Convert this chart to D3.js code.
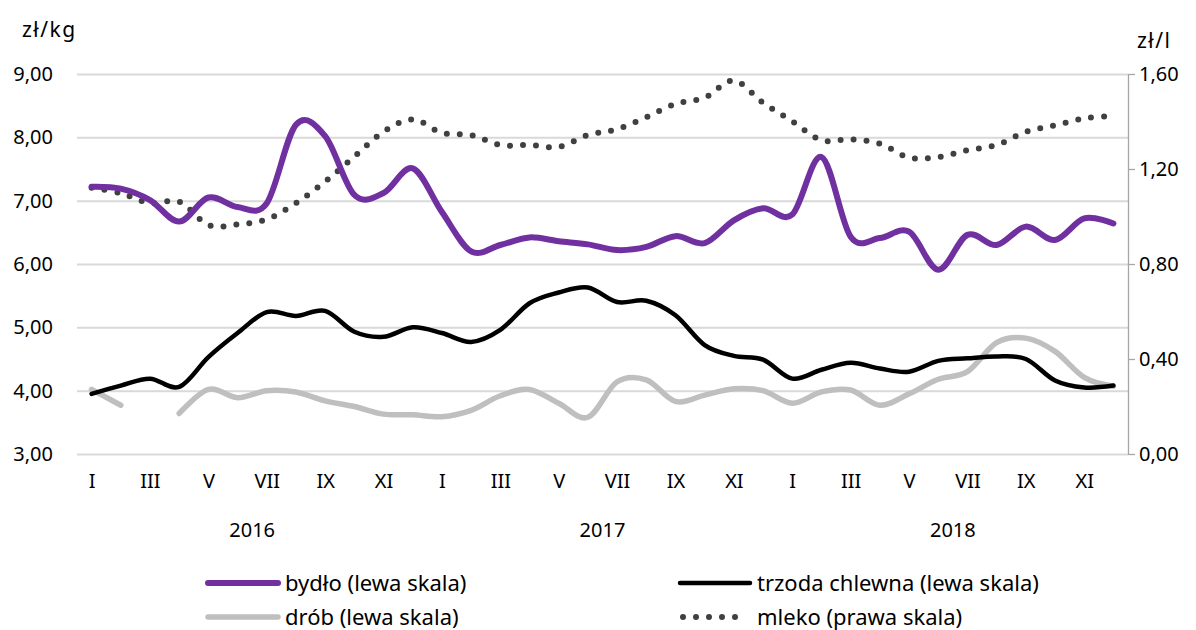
<!DOCTYPE html>
<html lang="pl">
<head>
    <meta charset="UTF-8">
    <title>Ceny skupu</title>
    <script type="text/javascript" src="https://cdn.jsdelivr.net/npm/d3@7/dist/d3.min.js"></script>
    <style type="text/css">
        body { margin: 0; background: #fff; }
        text { font-family: "Noto Sans", "Open Sans", sans-serif; fill: #000; }
    </style>
</head>
<body>
    <script type="text/javascript">
        //Width and height
        var w = 1196;
        var h = 630;

        //Data
        var monthLabels = ["I", "II", "III", "IV", "V", "VI", "VII", "VIII", "IX", "X", "XI", "XII"];
        var years = ["2016", "2017", "2018"];

        var bydlo = [7.22, 7.19, 7.01, 6.67, 7.05, 6.90, 6.96, 8.20, 8.02, 7.09, 7.12, 7.51,
            6.82, 6.20, 6.30, 6.42, 6.36, 6.31, 6.22, 6.27, 6.44, 6.33, 6.69, 6.88,
            6.78, 7.69, 6.43, 6.41, 6.51, 5.91, 6.46, 6.30, 6.59, 6.38, 6.72, 6.64];

        var trzoda = [3.95, 4.08, 4.19, 4.06, 4.53, 4.91, 5.24, 5.18, 5.26, 4.93, 4.85, 5.00,
            4.91, 4.77, 4.96, 5.38, 5.55, 5.63, 5.40, 5.42, 5.19, 4.72, 4.55, 4.49,
            4.19, 4.33, 4.44, 4.35, 4.30, 4.47, 4.51, 4.54, 4.50, 4.16, 4.05, 4.08];

        var drob = [4.02, 3.77, null, 3.64, 4.02, 3.89, 4.00, 3.98, 3.84, 3.75, 3.63, 3.62,
            3.59, 3.69, 3.92, 4.02, 3.80, 3.58, 4.14, 4.17, 3.83, 3.93, 4.03, 4.00,
            3.80, 3.98, 4.01, 3.77, 3.95, 4.18, 4.30, 4.76, 4.83, 4.62, 4.21, 4.07];

        var mleko = [1.121, 1.098, 1.056, 1.062, 0.964, 0.967, 0.988, 1.056, 1.147, 1.252, 1.357, 1.409,
            1.352, 1.343, 1.301, 1.301, 1.293, 1.343, 1.368, 1.418, 1.474, 1.500, 1.572, 1.479,
            1.401, 1.321, 1.325, 1.307, 1.248, 1.250, 1.279, 1.301, 1.356, 1.384, 1.413, 1.423];

        var leftTicks = [3, 4, 5, 6, 7, 8, 9];
        var rightTicks = [0, 0.4, 0.8, 1.2, 1.6];

        //Plot area
        var plotL = 77, plotR = 1128, plotT = 74, plotB = 454;

        var pl = d3.formatLocale({ decimal: ",", thousands: " ", grouping: [3], currency: ["", " zł"] });
        var fmt = pl.format(".2f");

        var xScale = d3.scalePoint()
            .domain(d3.range(bydlo.length))
            .range([plotL, plotR])
            .padding(0.5);

        var yLeft = d3.scaleLinear().domain([3, 9]).range([plotB, plotT]);
        var yRight = d3.scaleLinear().domain([0, 1.6]).range([plotB, plotT]);

        //Create SVG element
        var svg = d3.select("body")
            .append("svg")
            .attr("width", w)
            .attr("height", h);

        //Gridlines
        svg.append("g")
            .attr("transform", "translate(" + plotL + ",0)")
            .call(d3.axisLeft(yLeft).tickValues(leftTicks).tickSize(-(plotR - plotL)).tickFormat(""))
            .call(function(g) {
                g.select(".domain").remove();
                g.selectAll("line").attr("stroke", "#d9d9d9").attr("stroke-width", 2);
            });

        //Left axis labels
        svg.append("g")
            .attr("transform", "translate(" + plotL + ",0)")
            .call(d3.axisLeft(yLeft).tickValues(leftTicks).tickSize(0).tickPadding(24).tickFormat(fmt))
            .call(function(g) {
                g.select(".domain").remove();
                g.selectAll("text").attr("font-size", 20).attr("font-family", null);
            });

        //Right axis
        svg.append("g")
            .attr("transform", "translate(" + plotR + ",0)")
            .call(d3.axisRight(yRight).tickValues(rightTicks).tickSize(7).tickSizeOuter(0).tickPadding(4).tickFormat(fmt))
            .call(function(g) {
                g.select(".domain").attr("stroke", "#a6a6a6").attr("stroke-width", 1.3);
                g.selectAll("line").attr("stroke", "#a6a6a6").attr("stroke-width", 1.3);
                g.selectAll("text").attr("font-size", 20).attr("font-family", null);
            });

        //Month labels
        svg.append("g")
            .attr("transform", "translate(0," + plotB + ")")
            .call(d3.axisBottom(xScale)
                .tickValues(xScale.domain().filter(function(d) { return d % 2 === 0; }))
                .tickSize(0).tickPadding(20)
                .tickFormat(function(d) { return monthLabels[d % 12]; }))
            .call(function(g) {
                g.select(".domain").remove();
                g.selectAll("text").attr("font-size", 20).attr("font-family", null);
            });

        //Year labels
        svg.selectAll(".year")
            .data(years)
            .enter()
            .append("text")
            .attr("class", "year")
            .attr("x", function(d, i) {
                return (xScale(i * 12) + xScale(i * 12 + 11)) / 2;
            })
            .attr("y", 537)
            .attr("text-anchor", "middle")
            .attr("font-size", 20)
            .text(function(d) { return d; });

        //Axis titles
        svg.append("text").attr("x", 22).attr("y", 37).attr("font-size", 21).attr("letter-spacing", 1.5).text("zł/kg");
        svg.append("text").attr("x", 1137).attr("y", 48).attr("font-size", 21).attr("letter-spacing", 1.5).text("zł/l");

        //Lines
        var lineLeft = d3.line()
            .defined(function(d) { return d != null; })
            .x(function(d, i) { return xScale(i); })
            .y(function(d) { return yLeft(d); })
            .curve(d3.curveCardinal);

        var lineRight = d3.line()
            .x(function(d, i) { return xScale(i); })
            .y(function(d) { return yRight(d); })
            .curve(d3.curveCardinal);

        var series = [
            { name: "drób (lewa skala)", values: drob, line: lineLeft, color: "#bfbfbf", width: 5.5, dash: null },
            { name: "trzoda chlewna (lewa skala)", values: trzoda, line: lineLeft, color: "#000000", width: 4.5, dash: null },
            { name: "mleko (prawa skala)", values: mleko, line: lineRight, color: "#404040", width: 6, dash: "0 13" },
            { name: "bydło (lewa skala)", values: bydlo, line: lineLeft, color: "#7030a0", width: 6, dash: null }
        ];

        svg.selectAll(".series")
            .data(series)
            .enter()
            .append("path")
            .attr("class", "series")
            .attr("fill", "none")
            .attr("stroke", function(d) { return d.color; })
            .attr("stroke-width", function(d) { return d.width; })
            .attr("stroke-linecap", "round")
            .attr("stroke-linejoin", "round")
            .attr("stroke-dasharray", function(d) { return d.dash; })
            .attr("d", function(d) { return d.line(d.values); });

        //Legend
        var legendItems = [
            { s: series[3], x: 208, y: 583 },
            { s: series[1], x: 680, y: 583 },
            { s: series[0], x: 208, y: 617 },
            { s: series[2], x: 680, y: 617 }
        ];

        var legend = svg.selectAll(".legend")
            .data(legendItems)
            .enter()
            .append("g")
            .attr("class", "legend")
            .attr("transform", function(d) { return "translate(" + d.x + "," + d.y + ")"; });

        legend.append("line")
            .attr("x1", function(d) { return d.s.dash ? 3 : 0; })
            .attr("x2", function(d) { return d.s.dash ? 60 : 70; })
            .attr("stroke", function(d) { return d.s.color; })
            .attr("stroke-width", function(d) { return d.s.width; })
            .attr("stroke-linecap", "round")
            .attr("stroke-dasharray", function(d) { return d.s.dash; });

        legend.append("text")
            .attr("x", 77)
            .attr("dy", "0.35em")
            .attr("font-size", 22)
            .text(function(d) { return d.s.name; });
    </script>
</body>
</html>
